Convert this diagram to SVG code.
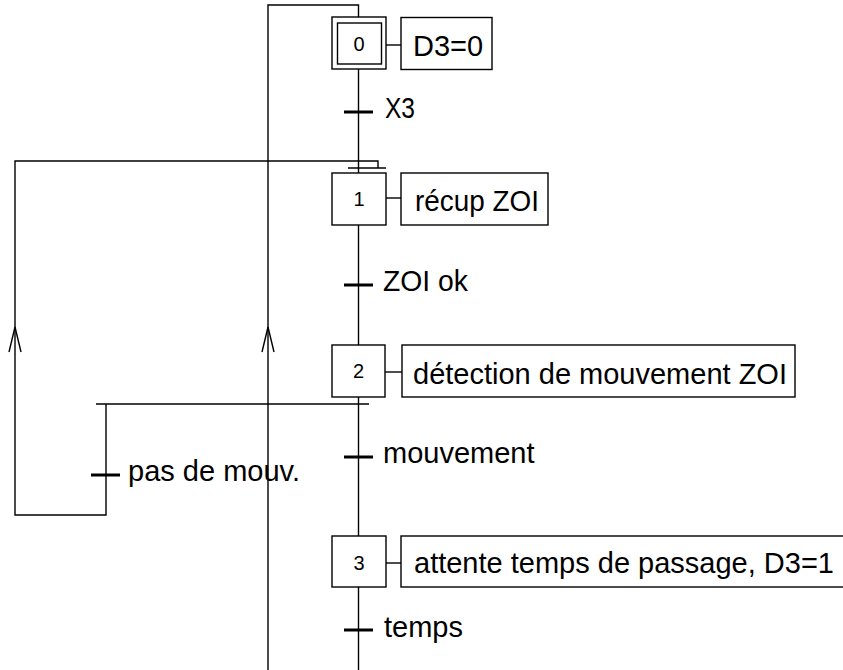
<svg xmlns="http://www.w3.org/2000/svg" width="843" height="670" viewBox="0 0 843 670">
<defs>
<style>
.ln{fill:none;stroke:#000;stroke-width:1.4}
.bx{fill:#fff;stroke:#000;stroke-width:1.4}
.tk{stroke:#000;stroke-width:3}
.lbl{font-family:"Liberation Sans",Arial,sans-serif;font-size:29px;fill:#000}
.num{font-family:"Liberation Sans",Arial,sans-serif;font-size:20px;fill:#000;text-anchor:middle}
</style>
</defs>
<rect width="843" height="670" fill="#fff"/>
<g id="connectors">
<polyline class="ln" points="358.5,17 358.5,5 268,5 268,670"/>
<line class="ln" x1="358.5" y1="69" x2="358.5" y2="173"/>
<line class="ln" x1="358.5" y1="225" x2="358.5" y2="345"/>
<line class="ln" x1="358.5" y1="397" x2="358.5" y2="536"/>
<line class="ln" x1="358.5" y1="587" x2="358.5" y2="670"/>
<polyline class="ln" points="106,404 106,515 15,515 15,161 378,161 378,168"/>
<line class="ln" x1="348" y1="168" x2="386" y2="168"/>
<line class="ln" x1="96" y1="404" x2="369" y2="404"/>
<polyline class="ln" points="262,352 268,327 274,352"/>
<polyline class="ln" points="9,352 15,327 21,352"/>
<line class="ln" x1="386" y1="45" x2="401" y2="45"/>
<line class="ln" x1="386" y1="198" x2="401" y2="198"/>
<line class="ln" x1="385" y1="372" x2="402" y2="372"/>
<line class="ln" x1="386" y1="563" x2="401" y2="563"/>
</g>
<g id="step0">
<rect class="bx" x="332" y="17" width="54" height="52"/>
<rect class="bx" x="337.5" y="23" width="44" height="41"/>
<text class="num" x="359" y="51">0</text>
</g>
<g id="action0">
<rect class="bx" x="401" y="17.5" width="91" height="52"/>
<text class="lbl" x="413" y="56">D3=0</text>
</g>
<g id="step1">
<rect class="bx" x="332" y="173" width="54" height="52"/>
<text class="num" x="359" y="206">1</text>
</g>
<g id="action1">
<rect class="bx" x="401" y="173" width="147" height="52"/>
<text class="lbl" x="415" y="211" textLength="124" lengthAdjust="spacingAndGlyphs">récup ZOI</text>
</g>
<g id="step2">
<rect class="bx" x="332" y="345" width="53" height="52"/>
<text class="num" x="358.5" y="378">2</text>
</g>
<g id="action2">
<rect class="bx" x="402" y="345" width="393" height="52"/>
<text class="lbl" x="413" y="384">détection de mouvement ZOI</text>
</g>
<g id="step3">
<rect class="bx" x="332" y="536" width="54" height="51"/>
<text class="num" x="359" y="570">3</text>
</g>
<g id="action3">
<rect class="bx" x="401" y="536" width="460" height="51"/>
<text class="lbl" x="414" y="573">attente temps de passage, D3=1</text>
</g>
<g id="transition-X3">
<line class="tk" x1="344" y1="112" x2="373" y2="112"/>
<text class="lbl" x="385" y="118" textLength="30" lengthAdjust="spacingAndGlyphs">X3</text>
</g>
<g id="transition-ZOIok">
<line class="tk" x1="344" y1="285" x2="373" y2="285"/>
<text class="lbl" x="383" y="291" textLength="85" lengthAdjust="spacingAndGlyphs">ZOI ok</text>
</g>
<g id="transition-mouvement">
<line class="tk" x1="344" y1="457" x2="373" y2="457"/>
<text class="lbl" x="383" y="463">mouvement</text>
</g>
<g id="transition-pasdemouv">
<line class="tk" x1="91" y1="475" x2="120" y2="475"/>
<text class="lbl" x="128" y="481">pas de mouv.</text>
</g>
<g id="transition-temps">
<line class="tk" x1="344" y1="630" x2="373" y2="630"/>
<text class="lbl" x="384" y="637">temps</text>
</g>
</svg>
